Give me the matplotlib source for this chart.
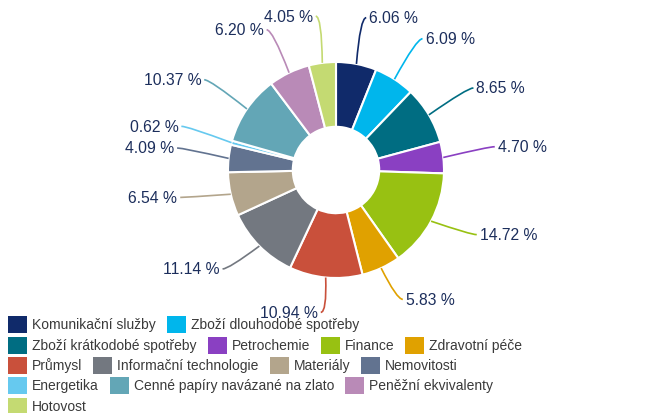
import numpy as np
import matplotlib
matplotlib.use("Agg")
import matplotlib.pyplot as plt
from matplotlib.patches import Rectangle
from matplotlib.path import Path
from matplotlib.patches import PathPatch

plt.rcParams['font.family'] = ['Liberation Sans', 'DejaVu Sans']

categories = ["Komunikační služby", "Zboží dlouhodobé spotřeby", "Zboží krátkodobé spotřeby",
              "Petrochemie", "Finance", "Zdravotní péče", "Průmysl", "Informační technologie",
              "Materiály", "Nemovitosti", "Energetika", "Cenné papíry navázané na zlato",
              "Peněžní ekvivalenty", "Hotovost"]
values = [6.06, 6.09, 8.65, 4.70, 14.72, 5.83, 10.94, 11.14, 6.54, 4.09, 0.62, 10.37, 6.20, 4.05]
labels = ["6.06 %", "6.09 %", "8.65 %", "4.70 %", "14.72 %", "5.83 %", "10.94 %", "11.14 %",
          "6.54 %", "4.09 %", "0.62 %", "10.37 %", "6.20 %", "4.05 %"]
colors = ["#102a6a", "#00b6ec", "#006d82", "#8a40c2", "#98c112", "#e0a100", "#c9503b",
          "#737880", "#b3a58c", "#627390", "#66c9ef", "#63a6b6", "#b98ab7", "#c4da72"]
legend_rows = [2, 4, 4, 3, 1]

W, H = 661, 414
fig = plt.figure(figsize=(W / 100, H / 100), dpi=100)
ax = fig.add_axes([0, 0, 1, 1])

CX, CY, R = 336, H - 171, 108
wedges, _ = ax.pie(values, colors=colors, startangle=90, counterclock=False,
                   center=(CX, CY), radius=R,
                   wedgeprops=dict(width=R * 0.6, edgecolor="white", linewidth=1.5))
ax.set_xlim(0, W)
ax.set_ylim(0, H)
ax.set_aspect("equal")
ax.axis("off")

label_color = "#1c2e5c"
LCY = CY + 6          # label ellipse centre (slightly above pie centre)
RX, RY = 1.48 * R, 1.38 * R
for w, lab, col in zip(wedges, labels, colors):
    th = np.deg2rad((w.theta1 + w.theta2) / 2)
    c, s = np.cos(th), np.sin(th)
    side = 1 if c >= 0 else -1
    p0 = (CX + 1.0 * R * c, CY + 1.0 * R * s)
    pc = (CX + RX * c - side * 6, LCY + RY * s)
    p2 = (pc[0] + side * 6, pc[1])
    path = Path([p0, pc, p2], [Path.MOVETO, Path.CURVE3, Path.CURVE3])
    ax.add_patch(PathPatch(path, fill=False, edgecolor=col, lw=1.2))
    ax.text(p2[0] + side * 3, p2[1], lab, ha="left" if side > 0 else "right",
            va="center", fontsize=11.3, color=label_color)

# legend (row-flow layout)
fig.canvas.draw()
renderer = fig.canvas.get_renderer()
row_y = [325, 346, 366, 386, 407]
idx = 0
for r, n in enumerate(legend_rows):
    x = 8
    y = H - row_y[r]
    for k in range(n):
        i = idx + k
        ax.add_patch(Rectangle((x, y - 8.5), 19, 17, facecolor=colors[i], edgecolor="none",
                               zorder=5))
        t = ax.text(x + 24, y, categories[i], ha="left", va="center", fontsize=10,
                    color="#3a3a3a", zorder=5)
        wt = t.get_window_extent(renderer).width
        x = x + 24 + wt + 11
    idx += n

fig.savefig("out.png", dpi=100)
